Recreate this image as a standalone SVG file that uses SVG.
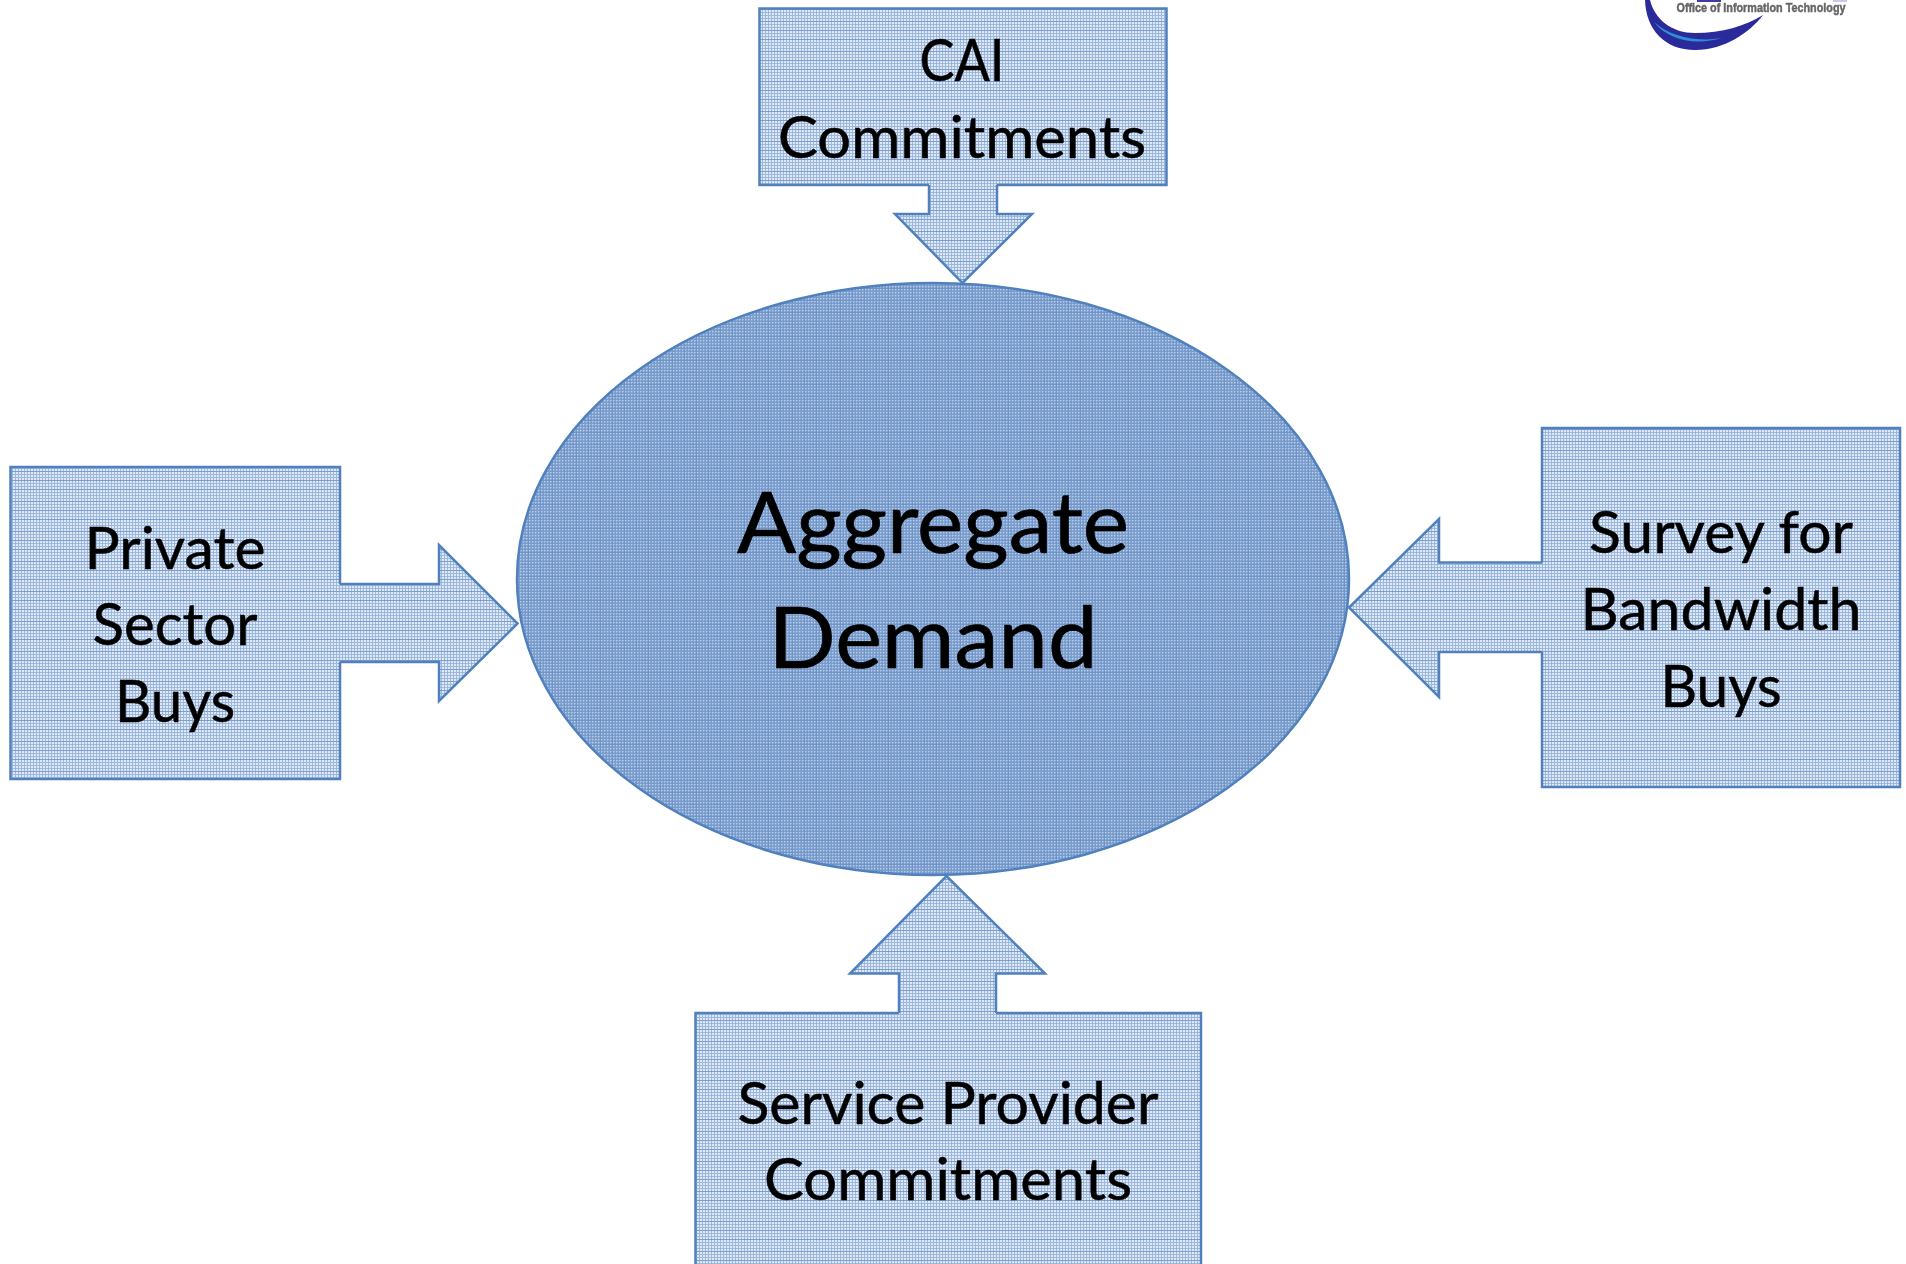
<svg xmlns="http://www.w3.org/2000/svg" width="1906" height="1264" viewBox="0 0 1906 1264">
<style>
.s{fill:url(#boxfill);stroke:#5081bd;stroke-width:2.5;stroke-linejoin:miter}
.e{fill:url(#ellfill);stroke:#5081bd;stroke-width:2.5}
text{font-family:"Lato","Liberation Sans",sans-serif;fill:#000;stroke:#000;stroke-width:.5;text-anchor:middle;font-size:58px}
.big{font-size:86px;stroke-width:.7}
.lg{font-size:12.5px;font-weight:700;fill:#666;stroke:#666;stroke-width:.45;font-family:"Liberation Sans",sans-serif}
</style>
<defs>
<pattern id="boxfill" patternUnits="userSpaceOnUse" width="3" height="30">
<rect width="3" height="30" fill="#dfe8f4"/>
<rect width="1" height="30" fill="#9cb8dc"/>
<path d="M0 .5H3M0 3.500H3M0 6.500H3M0 9.500H3M0 12.500H3M0 15.500H3M0 18.500H3M0 21.500H3M0 24.500H3M0 27.500H3" stroke="#9cb8dc" stroke-width="1"/>
<path d="M0 .5H3M0 9.500H3M0 21.500H3" stroke="#7a9fd0" stroke-width="1"/>
</pattern>
<pattern id="ellbase" patternUnits="userSpaceOnUse" width="3" height="3">
<rect width="3" height="3" fill="#7a9dcd"/>
<rect x="1" y="1" width="1" height="1" fill="#b8cce6"/>
<rect x="2" y="1" width="1" height="1" fill="#98b4da"/>
<rect x="1" y="2" width="1" height="1" fill="#98b4da"/>
</pattern>
<pattern id="ellfill" patternUnits="userSpaceOnUse" width="12" height="12">
<rect width="12" height="12" fill="url(#ellbase)"/>
<path d="M.5 0V12M0 .5H12" stroke="#6a90c6" stroke-width="1" opacity=".7"/>
</pattern>
<filter id="soft" x="-5%" y="-30%" width="110%" height="160%"><feGaussianBlur stdDeviation=".7"/></filter>
</defs>
<rect width="1906" height="1264" fill="#fff"/>
<g id="logo" filter="url(#soft)">
<path d="M1645 0C1646 30 1665 50 1695 50C1725 50 1750 32 1763 15C1745 26 1722 33 1695 33C1672 33 1655 20 1650 0Z" fill="#2a2a9a"/>
<path d="M1654 22C1668 40 1695 46 1722 38C1700 42 1672 38 1654 22Z" fill="#2f8fd8"/>
<rect x="1697" y="0" width="24" height="2" fill="#3a3aa0"/>
<rect x="1833" y="0" width="14" height="2" fill="#c9c9e6"/>
<text class="lg" x="1761" y="12" textLength="169" lengthAdjust="spacingAndGlyphs">Office of Information Technology</text>
</g>
<g id="connectors">
<path id="arrow-top" class="s" d="M929 185V214H895L962.500 283L1032 214H997V185"/>
<path id="arrow-left" class="s" d="M340 584H439V545L517.500 623.500L439 701V662H340"/>
<path id="arrow-right" class="s" d="M1542 562.500H1439V519L1349 607.500L1439 697V652H1542"/>
<path id="arrow-bottom" class="s" d="M899 1013V973.500H850L946.500 876L1045 973.500H996V1013"/>
</g>
<g id="node-demand">
<ellipse class="e" cx="933" cy="579" rx="416" ry="296"/>
<text class="big" x="933" y="553" textLength="392" lengthAdjust="spacingAndGlyphs">Aggregate</text>
<text class="big" x="933" y="668" textLength="329" lengthAdjust="spacingAndGlyphs">Demand</text>
</g>
<g id="node-cai">
<path class="s" d="M929 185H759.500V8.500H1166.500V185H997"/>
<text x="962" y="81" textLength="85" lengthAdjust="spacingAndGlyphs">CAI</text>
<text x="962" y="158" textLength="368" lengthAdjust="spacingAndGlyphs">Commitments</text>
</g>
<g id="node-private">
<path class="s" d="M340 584V467H10.500V779H340V662"/>
<text x="175" y="569" textLength="181" lengthAdjust="spacingAndGlyphs">Private</text>
<text x="175" y="645" textLength="165" lengthAdjust="spacingAndGlyphs">Sector</text>
<text x="175" y="722" textLength="120" lengthAdjust="spacingAndGlyphs">Buys</text>
</g>
<g id="node-survey">
<path class="s" d="M1542 562.500V428H1900V787H1542V652"/>
<text x="1721" y="553" textLength="264" lengthAdjust="spacingAndGlyphs">Survey for</text>
<text x="1721" y="630" textLength="281" lengthAdjust="spacingAndGlyphs">Bandwidth</text>
<text x="1721" y="707" textLength="121" lengthAdjust="spacingAndGlyphs">Buys</text>
</g>
<g id="node-service">
<path class="s" d="M899 1013H695.500V1266H1201V1013H996"/>
<text x="948" y="1124" textLength="421" lengthAdjust="spacingAndGlyphs">Service Provider</text>
<text x="948" y="1200" textLength="368" lengthAdjust="spacingAndGlyphs">Commitments</text>
</g>
</svg>
